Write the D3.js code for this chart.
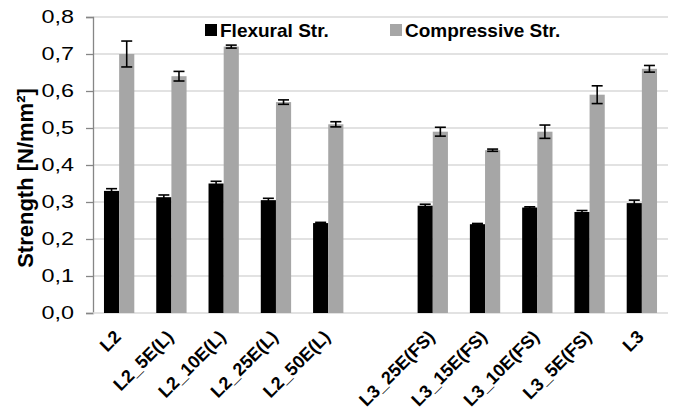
<!DOCTYPE html>
<html>
<head>
<meta charset="utf-8">
<script src="https://cdn.jsdelivr.net/npm/d3@7"></script>
<style>
  body { margin: 0; background: #fff; }
  text { font-family: "Liberation Sans", Arial, sans-serif; }
</style>
</head>
<body>
<div id="chart"></div>
<script>
// chart data
const categories = ["L2", "L2_5E(L)", "L2_10E(L)", "L2_25E(L)", "L2_50E(L)", "",
  "L3_25E(FS)", "L3_15E(FS)", "L3_10E(FS)", "L3_5E(FS)", "L3"];
const flexural = [0.330, 0.313, 0.350, 0.305, 0.243, null, 0.290, 0.240, 0.285, 0.273, 0.297];
const flexuralErr = [0.006, 0.006, 0.006, 0.005, 0.002, null, 0.004, 0.002, 0.002, 0.004, 0.008];
const compressive = [0.700, 0.640, 0.720, 0.570, 0.510, null, 0.490, 0.440, 0.490, 0.590, 0.660];
const compressiveErr = [0.035, 0.013, 0.004, 0.006, 0.007, null, 0.012, 0.003, 0.018, 0.024, 0.009];
const yTicks = [0, 0.1, 0.2, 0.3, 0.4, 0.5, 0.6, 0.7, 0.8];
const seriesNames = ["Flexural Str.", "Compressive Str."];
const seriesColors = ["#000000", "#a6a6a6"];

const width = 680, height = 418;
const margin = { top: 17, right: 12, bottom: 105, left: 93 };
const w = width - margin.left - margin.right;
const h = height - margin.top - margin.bottom;

const svg = d3.select("#chart").append("svg")
  .attr("width", width)
  .attr("height", height);

const g = svg.append("g")
  .attr("transform", `translate(${margin.left},${margin.top})`);

const x = d3.scaleBand().domain(d3.range(categories.length)).range([0, w]).paddingInner(0.42).paddingOuter(0.21);
const xs = d3.scaleBand().domain([0, 1]).range([0, x.bandwidth()]);
const y = d3.scaleLinear().domain([0, 0.8]).range([h, 0]);
const fmt = d => d3.format(".1f")(d).replace(".", ",");

// grid lines
g.append("g").selectAll("line")
  .data(yTicks.slice(1))
  .join("line")
  .attr("x1", 0).attr("x2", w)
  .attr("y1", d => y(d)).attr("y2", d => y(d))
  .attr("stroke", "#d9d9d9")
  .attr("stroke-width", 1.3);

// y axis (tick labels are drawn a bit wide, like the original)
const stretch = 1.3;
const yAxis = g.append("g")
  .call(d3.axisLeft(y).tickValues(yTicks).tickFormat(fmt).tickSize(7).tickPadding(12));
yAxis.select(".domain").attr("stroke", "#868686").attr("stroke-width", 1.3);
yAxis.selectAll(".tick line").attr("stroke", "#868686").attr("stroke-width", 1.3);
yAxis.selectAll("text")
  .attr("font-size", 18)
  .attr("fill", "#000")
  .attr("font-family", "'Liberation Sans', Arial, sans-serif")
  .attr("x", -19 / stretch)
  .attr("transform", `scale(${stretch},1)`);

// x axis line
g.append("line")
  .attr("x1", 0).attr("x2", w)
  .attr("y1", h).attr("y2", h)
  .attr("stroke", "#d9d9d9")
  .attr("stroke-width", 1.3);

// x labels
g.append("g").selectAll("text")
  .data(categories)
  .join("text")
  .attr("transform", (d, i) => `translate(${x(i) + x.bandwidth() / 2 + 3},${h + 25}) rotate(-45)`)
  .attr("text-anchor", "end")
  .attr("font-size", 18)
  .attr("font-weight", "bold")
  .text(d => d);

// bars and error bars
const series = [
  { vals: flexural, err: flexuralErr },
  { vals: compressive, err: compressiveErr }
];
series.forEach((s, k) => {
  const data = categories.map((c, i) => ({ i, v: s.vals[i], e: s.err[i] })).filter(d => d.v != null);
  g.append("g").selectAll("rect")
    .data(data)
    .join("rect")
    .attr("x", d => x(d.i) + xs(k))
    .attr("y", d => y(d.v))
    .attr("width", xs.bandwidth())
    .attr("height", d => h - y(d.v))
    .attr("fill", seriesColors[k]);

  const eb = g.append("g").attr("stroke", "#000").attr("stroke-width", 1.6);
  data.forEach(d => {
    const cx = x(d.i) + xs(k) + xs.bandwidth() / 2;
    eb.append("line").attr("x1", cx).attr("x2", cx).attr("y1", y(d.v + d.e)).attr("y2", y(d.v - d.e));
    [d.v + d.e, d.v - d.e].forEach(t => {
      eb.append("line").attr("x1", cx - 5.5).attr("x2", cx + 5.5).attr("y1", y(t)).attr("y2", y(t));
    });
  });
});

// y title
svg.append("text")
  .attr("transform", `translate(33,${margin.top + 161}) rotate(-90)`)
  .attr("text-anchor", "middle")
  .attr("font-size", 22)
  .attr("font-weight", "bold")
  .text("Strength [N/mm²]");

// legend
const legendX = [205, 390];
const legend = svg.append("g");
seriesNames.forEach((name, k) => {
  legend.append("rect")
    .attr("x", legendX[k]).attr("y", 24)
    .attr("width", 12).attr("height", 12)
    .attr("fill", seriesColors[k]);
  legend.append("text")
    .attr("x", legendX[k] + 15).attr("y", 37)
    .attr("font-size", 19)
    .attr("font-weight", "bold")
    .text(name);
});
</script>
</body>
</html>
